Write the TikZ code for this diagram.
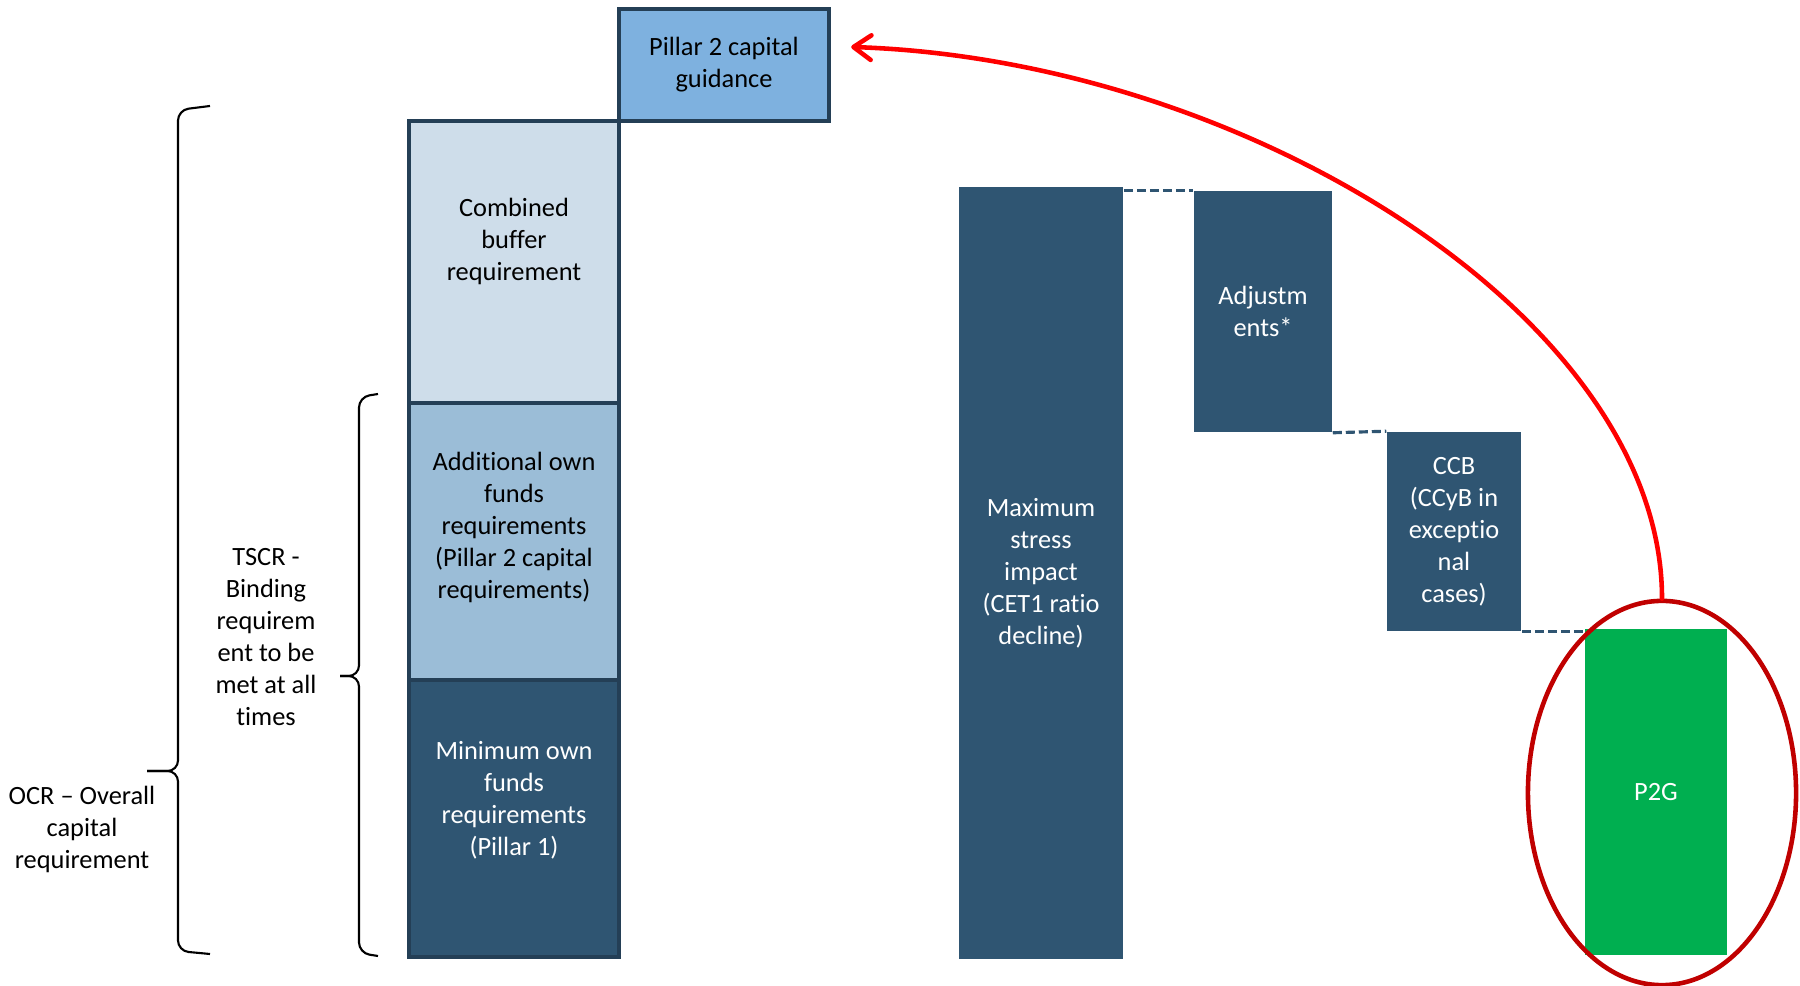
\documentclass[tikz,border=0pt]{standalone}
\usepackage{fontspec}
\setmainfont{Carlito}[Ligatures=NoCommon]
\usepackage{tikz}
\usetikzlibrary{shapes.geometric, arrows.meta, positioning, calc}

\definecolor{stackline}{HTML}{243F56}
\definecolor{darkblue}{HTML}{2F5572}
\definecolor{cbfill}{HTML}{CEDDEA}
\definecolor{addfill}{HTML}{9BBDD7}
\definecolor{guidefill}{HTML}{7EB1DF}
\definecolor{p2ggreen}{HTML}{00AF50}
\definecolor{ringred}{HTML}{C00000}
\definecolor{arrowred}{HTML}{FF0000}

\tikzset{
  stackbox/.style={draw=stackline, line width=1.2pt, minimum width=2.1cm, inner sep=0pt},
  bar/.style={fill=darkblue, text=white, align=center, inner sep=0pt},
  boxtext/.style={align=center, inner sep=0pt},
  dashline/.style={draw=darkblue, line width=0.9pt, dash pattern=on 2.6pt off 1.1pt},
  bracket/.style={line width=0.6pt, rounded corners=3pt}
}

\begin{document}
\begin{tikzpicture}[x=0.01cm, y=-0.01cm, font=\fontsize{7.5}{9.1}\selectfont]
\useasboundingbox (0,0) rectangle (1800,986);

% Capital stack
\node[stackbox, fill=cbfill, minimum height=2.82cm] (cbr) at (514,262) {};
\node[stackbox, fill=addfill, minimum height=2.77cm] (aofr) at (514,541.5) {};
\node[stackbox, fill=darkblue, minimum height=2.77cm] (mofr) at (514,818.5) {};
\node[stackbox, fill=guidefill, minimum height=1.12cm, align=center] (pgd) at (724,65) {Pillar 2 capital\\guidance};

\node[boxtext] (cbtext) at (514,241) {Combined\\buffer\\requirement};
\node[boxtext] (aoftext) at (514,527) {Additional own\\funds\\requirements\\(Pillar 2 capital\\requirements)};
\node[boxtext, text=white] (moftext) at (514,800) {Minimum own\\funds\\requirements\\(Pillar 1)};

% Braces
\draw[bracket] (210,106) -- (178,110) -- (178,771) -- (147,771);
\draw[bracket] (147,771) -- (178,771) -- (178,951) -- (210,954);
\draw[bracket] (378,394) -- (359,397) -- (359,676) -- (340,676);
\draw[bracket] (340,676) -- (359,676) -- (359,953) -- (378,956);
\node[boxtext] (ocr) at (82,829) {OCR -- Overall\\capital\\requirement};
\node[boxtext] (tscr) at (266,637) {TSCR -\\Binding\\requirem\\ent to be\\met at all\\times};

% Stress test bars
\node[bar, minimum width=1.64cm, minimum height=7.72cm] (ms) at (1041,573) {Maximum\\stress\\impact\\(CET1 ratio\\decline)};
\node[bar, minimum width=1.38cm, minimum height=2.41cm] (adj) at (1263,311.5) {Adjustm\\ents*};
\node[bar, minimum width=1.34cm, minimum height=1.99cm] (ccb) at (1454,531.5) {CCB\\(CCyB in\\exceptio\\nal\\cases)};
\node[bar, fill=p2ggreen, minimum width=1.42cm, minimum height=3.26cm] (p2g) at (1656,792) {P2G};

\draw[dashline] (ms.north east |- adj.north) -- (adj.north west);
\draw[dashline] (adj.south east) -- (ccb.north west);
\draw[dashline] (ccb.south east) -- (ccb.south east -| p2g.west);

% Highlight
\node[ellipse, draw=ringred, line width=1.3pt, minimum width=2.68cm, minimum height=3.84cm] (ring) at (1662,793) {};
\draw[arrowred, line width=1.3pt, line cap=round, -{Straight Barb[length=5pt, width=7pt, line cap=round, round]}]
  (ring.north) .. controls (1662,320) and (1250,60) .. ([xshift=0.2cm, yshift=0.18cm]pgd.east);
\end{tikzpicture}
\end{document}
